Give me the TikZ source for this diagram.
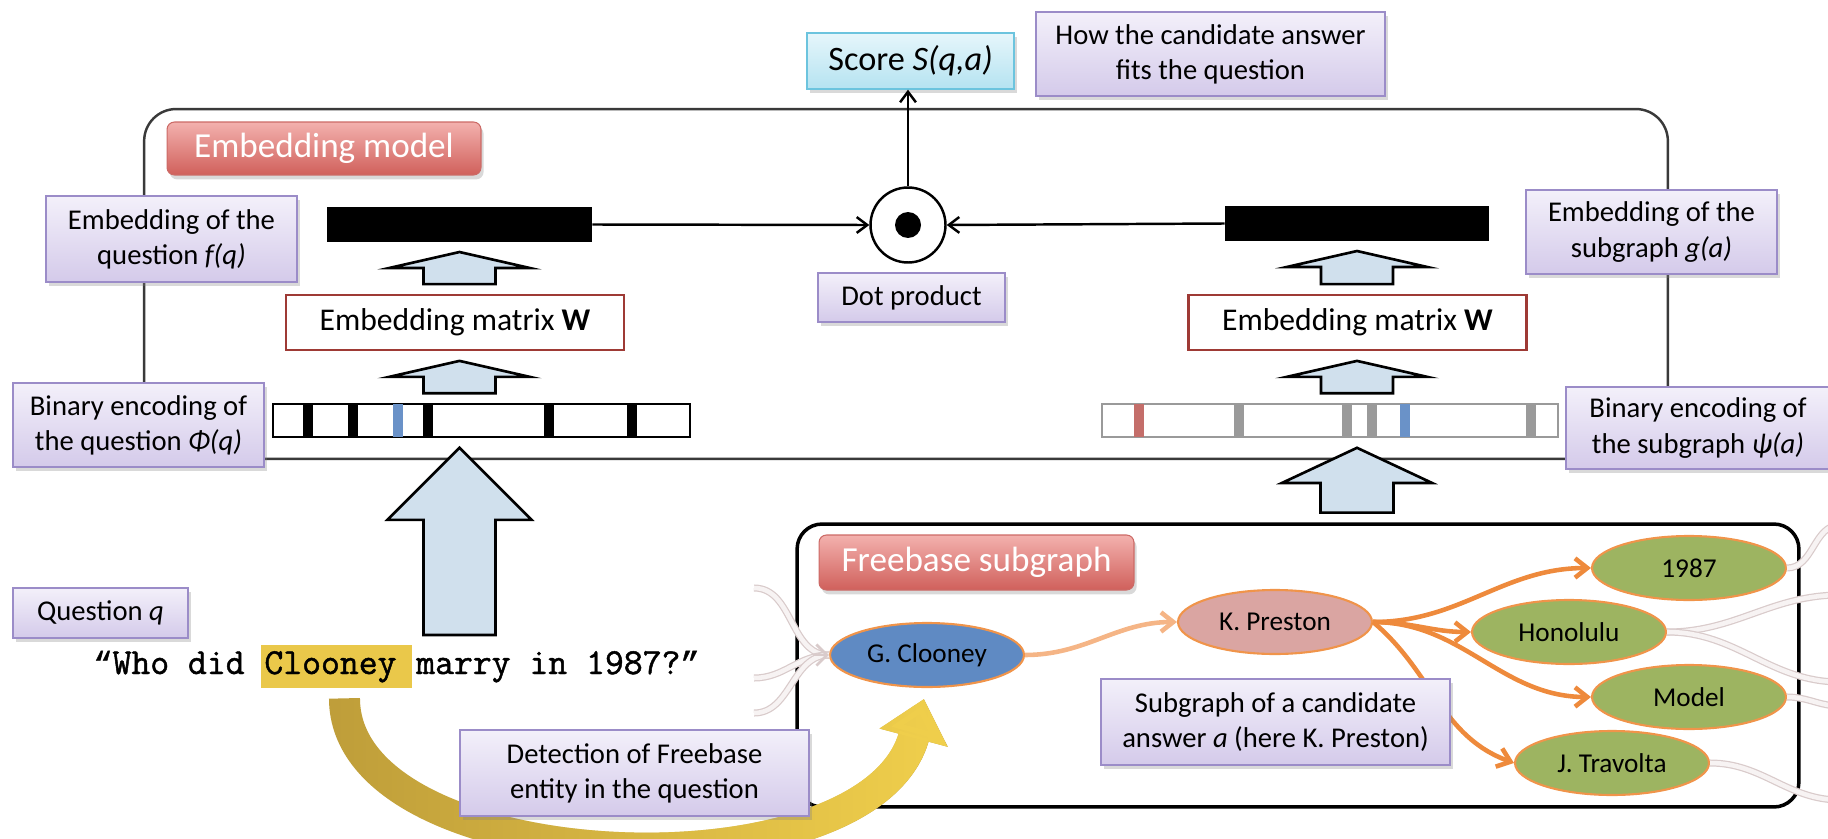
\documentclass[tikz,border=0pt]{standalone}
\usepackage{fontspec}
\setmainfont{Carlito}
\newfontfamily\qfont[FakeBold=1.3]{Latin Modern Mono}
\newfontfamily\qmarkfont[FakeBold=1.3]{Liberation Mono}
\usepackage{xcolor}
\definecolor{lbltop}{HTML}{F3F0FA}
\definecolor{lblbot}{HTML}{D4CAEA}
\definecolor{lbledge}{HTML}{9B8CC8}
\definecolor{ttltop}{HTML}{F3B1AE}
\definecolor{ttlbot}{HTML}{D0605B}
\definecolor{ttledge}{HTML}{CC6A66}
\definecolor{scoretop}{HTML}{E6F6FB}
\definecolor{scorebot}{HTML}{B5E3F1}
\definecolor{scoreedge}{HTML}{6CC4DE}
\definecolor{matred}{HTML}{9E3A35}
\definecolor{arrfill}{HTML}{D0E0ED}
\definecolor{tickblue}{HTML}{6A92C8}
\definecolor{tickred}{HTML}{C46E6A}
\definecolor{tickgrey}{HTML}{9A9A9A}
\definecolor{hlyellow}{HTML}{EAC84A}
\definecolor{goldL}{HTML}{BF9E3A}
\definecolor{goldR}{HTML}{F0CF4C}
\definecolor{gcblue}{HTML}{5F8AC3}
\definecolor{kppink}{HTML}{DAA5A2}
\definecolor{nodegreen}{HTML}{9DB461}
\definecolor{nodeedge}{HTML}{F0944A}
\definecolor{edgeorange}{HTML}{EE8A3C}
\definecolor{edgelight}{HTML}{F5B586}
\definecolor{wispedge}{HTML}{D9CBCB}
\definecolor{wispfill}{HTML}{F7F3F3}
\definecolor{frame}{HTML}{3A3A3A}
\usepackage{tikz}
\usetikzlibrary{calc,positioning,arrows.meta,shapes.geometric,shadows,fadings}

\newcommand{\lblfont}{\fontsize{16.3}{20}\selectfont}
\newcommand{\ttlfont}{\fontsize{20}{24}\selectfont}
\newcommand{\matfont}{\fontsize{18}{22}\selectfont}
\newcommand{\entfont}{\fontsize{15.5}{18}\selectfont}
\newcommand{\scorefont}{\fontsize{19.5}{23}\selectfont}
\newcommand{\qm}[1]{{\qmarkfont\fontsize{18.25}{24}\selectfont #1}}

\tikzfading[name=fade in right, left color=transparent!100, right color=transparent!0]

% block arrow pointing up: x from #1, from node #2 up to node #3
\newcommand{\blockup}[6]{%
  \draw[blockarr] let \p1=(#1), \p2=(#2), \p3=(#3) in
    (\x1-#6,\y2+5.5pt) -- (\x1-#6,\y3-5.5pt-#4) -- (\x1-#5,\y3-5.5pt-#4) -- (\x1,\y3-5.5pt)
    -- (\x1+#5,\y3-5.5pt-#4) -- (\x1+#6,\y3-5.5pt-#4) -- (\x1+#6,\y2+5.5pt) -- cycle;}

\begin{document}
\begin{tikzpicture}[
  x=0.02cm, y=-0.02cm,
  lbl/.style={draw=lbledge, line width=0.8pt, top color=lbltop, bottom color=lblbot,
              font=\lblfont, align=center, inner sep=0pt,
              drop shadow={shadow xshift=1.5pt, shadow yshift=-2.5pt, opacity=0.3}},
  ttl/.style={draw=ttledge, line width=0.6pt, rounded corners=0.15cm, top color=ttltop,
              bottom color=ttlbot, text=white, font=\ttlfont, inner sep=0pt,
              drop shadow={shadow xshift=1.5pt, shadow yshift=-2.5pt, opacity=0.3}},
  mat/.style={draw=matred, line width=1.4pt, fill=white, font=\matfont,
              minimum width=6.76cm, minimum height=1.1cm, inner sep=0pt},
  vec/.style={fill=black, minimum height=0.7cm, inner sep=0pt},
  bits/.style={line width=1.3pt, fill=white, minimum height=0.66cm, inner sep=0pt},
  entity/.style={ellipse, draw=nodeedge, line width=1.2pt, minimum width=3.88cm,
                 minimum height=1.28cm, inner sep=0pt, font=\entfont},
  conn/.style={line width=1.4pt, -{Straight Barb[length=6pt,width=9pt]}},
  rel/.style={edgeorange, line width=2.6pt, -{Straight Barb[length=7pt,width=11pt]}},
  wisp/.style={draw=wispedge, double=wispfill, line width=0.7pt, double distance=2.6pt},
  blockarr/.style={draw=black, line width=1.5pt, fill=arrfill, line join=miter},
  qtext/.style={font=\qfont\fontsize{20.86}{24}\selectfont, inner sep=0pt}
]
\useasboundingbox (0,0) rectangle (1828,838);

% frames
\node[draw=frame, line width=1.4pt, rounded corners=0.64cm,
      minimum width=30.48cm, minimum height=7cm] (embbox) at (906,284) {};
\node[draw=black, line width=2pt, rounded corners=0.5cm,
      minimum width=20.04cm, minimum height=5.66cm] (fbbox) at (1298,665.5) {};

% freebase entities
\node[entity, fill=gcblue] (gc) at (927,655) {G. Clooney};
\node[entity, fill=kppink] (kp) at (1275,622) {K. Preston};
\node[entity, fill=nodegreen] (n1987) at (1689,568) {1987};
\node[entity, fill=nodegreen] (hon) at (1569,632) {Honolulu};
\node[entity, fill=nodegreen] (model) at (1689,697) {Model};
\node[entity, fill=nodegreen] (jt) at (1612,763) {J. Travolta};

\coordinate (wl1) at (754,588);
\coordinate (wl2) at (754,678);
\coordinate (wl3) at (754,713);
\coordinate (wr1) at (1840,525);
\coordinate (wr2) at (1840,595);
\coordinate (wr3) at (1840,682);
\coordinate (wr4) at (1840,706);
\coordinate (wr5) at (1840,800);
\draw[wisp] (wl1) to[out=0,in=180] (gc.west);
\draw[wisp] (wl2) to[out=0,in=180] (gc.west);
\draw[wisp] (wl3) to[out=0,in=180] (gc.west);
\draw[wispedge, line width=1.6pt, -{Straight Barb[length=6pt,width=12pt]}] ($(gc.west)+(-16,0)$) -- (gc.west);
\draw[wisp] (n1987.east) to[out=0,in=180] (wr1);
\draw[wisp] (hon.east) to[out=0,in=180] (wr2);
\draw[wisp] (hon.east) to[out=0,in=180] (wr3);
\draw[wisp] (model.east) to[out=0,in=180] (wr4);
\draw[wisp] (jt.east) to[out=0,in=180] (wr5);

\draw[rel, edgelight] (gc.east) to[out=0,in=180] (kp.west);
\draw[rel] (kp.east) to[out=0,in=180] (n1987.west);
\draw[rel] (kp.east) to[out=0,in=180] (hon.west);
\draw[rel] (kp.east) to[out=0,in=180] (model.west);
\draw[rel] (kp.east) to[out=-40,in=160] (jt.west);

% question text
\node[qtext, anchor=base west] (qa) at (93,674) {\qm{“}Who did};
\node[qtext, fill=hlyellow, base right=0.32cm of qa, inner xsep=0.06cm,
      text height=0.58cm, text depth=0.28cm] (qc) {Clooney\kern0.24cm};
\node[qtext, base right=0.08cm of qc] (qd) {marry in 1987?\qm{”}};

% entity detection arrow
\draw[goldL, line width=0.62cm, -{Triangle[length=0.8cm,width=1.36cm]}]
  ($(qc.south)+(8,10)$) .. controls +(0,182) and +(-54,202) .. ($(gc.south)+(-3,11)$);
\draw[goldR, line width=0.62cm, path fading=fade in right, -{Triangle[length=0.8cm,width=1.36cm]}]
  ($(qc.south)+(8,10)$) .. controls +(0,182) and +(-54,202) .. ($(gc.south)+(-3,11)$);

% embedding model
\node[vec, minimum width=5.3cm] (embL) at (459.5,224.5) {};
\node[vec, minimum width=5.28cm] (embR) at (1357,223.5) {};
\node[mat] (matL) at (455,322.5) {Embedding matrix \textbf{W}};
\node[mat] (matR) at (1357.5,322.5) {Embedding matrix \textbf{W}};
\node[bits, draw=black, minimum width=8.34cm] (binL) at (481.5,420.5) {};
\node[bits, draw=tickgrey, minimum width=9.12cm] (binR) at (1330,420.5) {};
\foreach \t in {308,353,428,549,632}
  \fill (\t-5,404) rectangle (\t+5,437);
\fill[tickblue] (393,404) rectangle (403,437);
\foreach \t in {1239,1347,1372,1531}
  \fill[tickgrey] (\t-5,404) rectangle (\t+5,437);
\fill[tickred] (1134,404) rectangle (1144,437);
\fill[tickblue] (1400,404) rectangle (1410,437);

\blockup{embL}{matL.north}{embL.south}{9.1pt}{40pt}{20.5pt}
\blockup{embL}{binL.north}{matL.south}{9.1pt}{40pt}{20.5pt}
\blockup{embR}{matR.north}{embR.south}{9.1pt}{40pt}{20.5pt}
\blockup{embR}{binR.north}{matR.south}{9.1pt}{40pt}{20.5pt}
\blockup{embL}{qc.north}{binL.south}{41pt}{41pt}{20.5pt}
\blockup{embR}{fbbox.north}{binR.south}{20pt}{42.7pt}{20.8pt}

\node[circle, draw, line width=1.4pt, fill=white, minimum size=1.5cm, inner sep=0pt] (dot) at (908,225) {};
\node[circle, fill=black, minimum size=0.52cm, inner sep=0pt] (dotc) at (dot.center) {};
\node[draw=scoreedge, line width=0.8pt, top color=scoretop, bottom color=scorebot, font=\scorefont,
      minimum width=4.14cm, minimum height=1.12cm, inner sep=0pt,
      drop shadow={shadow xshift=1.5pt, shadow yshift=-2.5pt, opacity=0.3}] (score) at (910.5,61) {Score \textit{S(q,a)}};
\draw[conn] (embL.east) -- (dot.west);
\draw[conn] (embR.west) -- (dot.east);
\draw[conn] (dot.north) -- (dot.north |- score.south);

% labels
\node[ttl, minimum width=6.28cm, minimum height=1.06cm] (embtitle) at (324,148.5) {Embedding model};
\node[ttl, minimum width=6.3cm, minimum height=1.1cm] (fbtitle) at (976.5,562.5) {Freebase subgraph};
\node[lbl, minimum width=6.98cm, minimum height=1.68cm] (lblhow) at (1210.5,54) {How the candidate answer\\fits the question};
\node[lbl, minimum width=5.02cm, minimum height=1.72cm] (lblfq) at (171.5,239) {Embedding of the\\question \textit{f(q)}};
\node[lbl, minimum width=5.02cm, minimum height=1.68cm] (lblphi) at (138.5,425) {Binary encoding of\\the question \textit{Φ(q)}};
\node[lbl, minimum width=5.02cm, minimum height=1.68cm] (lblga) at (1651.5,232) {Embedding of the\\subgraph \textit{g(a)}};
\node[lbl, minimum width=5.28cm, minimum height=1.64cm] (lblpsi) at (1698,428) {Binary encoding of\\the subgraph \textit{ψ(a)}};
\node[lbl, minimum width=3.74cm, minimum height=0.98cm] (lbldot) at (911.5,297.5) {Dot product};
\node[lbl, minimum width=3.5cm, minimum height=1cm] (lblq) at (100.5,613) {Question \textit{q}};
\node[lbl, minimum width=6.98cm, minimum height=1.72cm] (lbldet) at (634.5,773) {Detection of Freebase\\entity in the question};
\node[lbl, minimum width=6.98cm, minimum height=1.72cm] (lblsub) at (1275.5,722) {Subgraph of a candidate\\answer \textit{a} (here K. Preston)};
\end{tikzpicture}
\end{document}
